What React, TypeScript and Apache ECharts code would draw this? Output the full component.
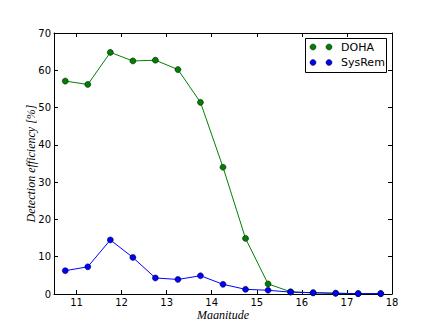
import React, { useEffect, useRef } from "react";
import * as echarts from "echarts";

const magnitudes = [10.75, 11.25, 11.75, 12.25, 12.75, 13.25, 13.75, 14.25, 14.75, 15.25, 15.75, 16.25, 16.75, 17.25, 17.75];
const dohaValues = [57.1, 56.2, 64.8, 62.5, 62.7, 60.2, 51.4, 34.0, 14.9, 2.7, 0.6, 0.3, 0.2, 0.1, 0.1];
const sysremValues = [6.25, 7.3, 14.5, 9.8, 4.3, 3.9, 4.9, 2.6, 1.25, 1.0, 0.5, 0.35, 0.2, 0.1, 0.1];
const seriesNames = ["DOHA", "SysRem"];
const seriesColors = ["#008000", "#0000ff"];
const xTickLabels = ["11", "12", "13", "14", "15", "16", "17", "18"];

const tickFont = "DejaVu Sans";
const labelFont = "'Liberation Serif', 'DejaVu Serif', serif";

export default function App() {
  const ref = useRef<HTMLDivElement>(null);
  useEffect(() => {
    if (!ref.current) return;
    const chart = echarts.init(ref.current, null, { renderer: "svg" });
    const frameLine = { show: true, onZero: false, lineStyle: { color: "#000", width: 1 } };
    const tick = { show: true, inside: true, length: 4, lineStyle: { color: "#000", width: 1 } };
    const mk = (vals: number[]) => magnitudes.map((m, i) => [m, vals[i]]);
    const allSeries = [dohaValues, sysremValues].map((vals, k) => ({
      type: "line",
      name: seriesNames[k],
      data: mk(vals),
      symbol: "circle",
      symbolSize: 6,
      lineStyle: { color: seriesColors[k], width: 1 },
      itemStyle: { color: seriesColors[k], borderColor: "#000", borderWidth: 0.5 },
      z: 3 + k,
    }));
    const legendItems: any[] = [
      {
        type: "rect",
        shape: { x: 305.5, y: 38.5, width: 81, height: 34 },
        style: { fill: "#fff", stroke: "#000", lineWidth: 1 },
        z: 10,
      },
    ];
    seriesNames.forEach((n, k) => {
      const y = 47 + k * 15.5;
      [313, 329].forEach((x) => {
        legendItems.push({
          type: "circle",
          shape: { cx: x, cy: y, r: 3 },
          style: { fill: seriesColors[k], stroke: "#000", lineWidth: 0.5 },
          z: 11,
        });
      });
      legendItems.push({
        type: "text",
        x: 341,
        y: y,
        style: { text: n, fill: "#000", font: `11px ${tickFont}`, verticalAlign: "middle", align: "left" },
        z: 11,
      });
    });
    chart.setOption({
      animation: false,
      backgroundColor: "#fff",
      grid: { left: 54, top: 33, right: 44, bottom: 33, containLabel: false },
      xAxis: [
        {
          type: "value",
          min: 10.5,
          max: 18,
          position: "bottom",
          name: "Magnitude",
          nameLocation: "middle",
          nameGap: 15,
          nameMoveOverlap: false,
          nameTextStyle: { fontFamily: labelFont, fontStyle: "italic", fontSize: 12, color: "#000", verticalAlign: "top" },
          axisLine: frameLine,
          axisTick: { ...tick, customValues: xTickLabels.map(Number) },
          splitLine: { show: false },
          axisLabel: {
            color: "#000",
            fontFamily: tickFont,
            fontSize: 10,
            margin: 3,
            customValues: xTickLabels.map(Number),
            formatter: (v: number) => String(v),
          },
        },
        {
          type: "value",
          min: 10.5,
          max: 18,
          position: "top",
          axisLine: frameLine,
          axisTick: { ...tick, customValues: xTickLabels.map(Number) },
          axisLabel: { show: false },
          splitLine: { show: false },
        },
      ],
      yAxis: [
        {
          type: "value",
          min: 0,
          max: 70,
          interval: 10,
          position: "left",
          name: "Detection efficiency [%]",
          nameLocation: "middle",
          nameGap: 17,
          nameMoveOverlap: false,
          nameTextStyle: { fontFamily: labelFont, fontStyle: "italic", fontSize: 12, color: "#000" },
          axisLine: frameLine,
          axisTick: tick,
          splitLine: { show: false },
          axisLabel: { color: "#000", fontFamily: tickFont, fontSize: 10, margin: 3 },
        },
        {
          type: "value",
          min: 0,
          max: 70,
          interval: 10,
          position: "right",
          axisLine: frameLine,
          axisTick: tick,
          axisLabel: { show: false },
          splitLine: { show: false },
        },
      ],
      series: allSeries,
      graphic: legendItems,
    });
    return () => chart.dispose();
  }, []);
  return <div ref={ref} style={{ width: 436, height: 327, margin: -8 }} />;
}
